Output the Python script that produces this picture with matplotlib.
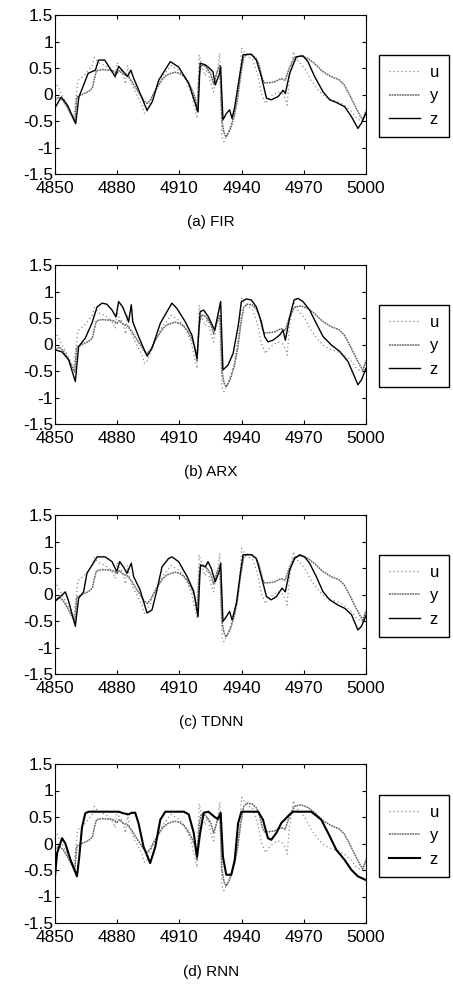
import matplotlib
matplotlib.use("Agg")
import matplotlib.pyplot as plt

plt.rcParams["font.family"] = ["Liberation Sans", "DejaVu Sans"]

# measured input u and plant output y (same in every panel)
t_u = [4850, 4852, 4854, 4856, 4858, 4859, 4860, 4861, 4862, 4864, 4866, 4868, 4869, 4871,
       4874, 4876, 4878, 4879, 4880, 4881, 4882, 4883, 4884, 4885, 4886, 4888, 4890, 4892,
       4893, 4894, 4896, 4898, 4900, 4902, 4904, 4906, 4908, 4910, 4912, 4914, 4916, 4917,
       4918.5, 4919.5, 4920.5, 4921.5, 4922.5, 4923.5, 4924.5, 4925.5, 4926.5, 4927.5,
       4928.5, 4929.5, 4930.5, 4931.5, 4933.5, 4936.5, 4939, 4940, 4942, 4945.5, 4948,
       4949.5, 4951.5, 4954, 4957.5, 4959.5, 4961, 4962, 4963, 4965, 4967, 4970.5, 4973.5,
       4977, 4980, 4983.5, 4986.5, 4989.5, 4993, 4995.5, 4998, 5000]
u = [0.25, 0.1, -0.05, -0.2, -0.35, -0.45, -0.1, 0.25, 0.3, 0.35, 0.45, 0.55, 0.7, 0.6,
     0.55, 0.5, 0.4, 0.3, 0.6, 0.5, 0.45, 0.35, 0.2, 0.55, 0.3, 0.1, -0.05, -0.2,
     -0.35, -0.35, -0.15, 0.05, 0.2, 0.35, 0.45, 0.55, 0.5, 0.45, 0.35, 0.2, 0.0, -0.2,
     -0.45, 0.75, 0.6, 0.45, 0.35, 0.5, 0.3, 0.15, 0.05, 0.3,
     0.5, 0.78, -0.8, -0.89, -0.73, -0.36, 0.27, 0.87, 0.75, 0.65, 0.34,
     0.02, -0.17, -0.04, 0.05, 0.02, -0.07, -0.2, 0.3, 0.81, 0.65, 0.49, 0.27,
     0.08, -0.04, -0.1, -0.14, -0.2, -0.32, -0.45, -0.51, -0.35]

t_y = [4850, 4852, 4854, 4856, 4858, 4859.5, 4860.5, 4862, 4864, 4866, 4868, 4869, 4870,
       4873, 4876, 4878, 4880, 4881, 4883, 4885, 4887, 4889, 4891, 4893, 4894.5, 4896,
       4898, 4900, 4902, 4904, 4906, 4908, 4910, 4912, 4914, 4916, 4917.5, 4918.5, 4919.5,
       4920.5, 4922, 4923.5, 4925, 4926.5, 4928, 4929.5, 4930.5, 4931.5, 4932.5, 4934,
       4935, 4936.5, 4938, 4939.5, 4941, 4942.5, 4945, 4947, 4948.5, 4950, 4951, 4953,
       4956, 4959, 4961, 4963, 4965.5, 4968.5, 4972, 4975, 4979, 4983, 4987, 4989.5,
       4992, 4994.5, 4997, 4998.5, 5000]
y = [-0.1, -0.05, -0.12, -0.25, -0.4, -0.52, -0.05, -0.02, 0.02, 0.05, 0.12, 0.3, 0.45,
     0.47, 0.46, 0.45, 0.4, 0.45, 0.38, 0.35, 0.25, 0.12, 0.0, -0.12, -0.17, -0.1,
     0.05, 0.18, 0.3, 0.37, 0.4, 0.42, 0.4, 0.35, 0.25, 0.1, -0.05, -0.3, 0.35,
     0.55, 0.55, 0.48, 0.4, 0.2, 0.4, 0.56, -0.5, -0.72, -0.8, -0.7,
     -0.6, -0.4, -0.1, 0.35, 0.7, 0.76, 0.75, 0.68, 0.55, 0.3, 0.22, 0.22,
     0.24, 0.3, 0.27, 0.5, 0.7, 0.73, 0.68, 0.59, 0.44, 0.34, 0.28, 0.18,
     0.0, -0.2, -0.39, -0.48, -0.3]

# model outputs z
t_fir = [4850, 4853, 4856, 4860, 4861.5, 4864, 4866, 4869.5, 4871, 4874, 4879, 4880.7, 4883,
         4885, 4886.6, 4888, 4890, 4894.4, 4897, 4900, 4905.6, 4909.6, 4914.5, 4919, 4920,
         4922.5, 4923.8, 4926.2, 4927.3, 4929.4, 4929.9, 4931, 4932.6, 4934.2, 4935.4,
         4936.7, 4939, 4940.7, 4944.7, 4947.1, 4949.5, 4952, 4954.3, 4957.6, 4960, 4961.1,
         4963.2, 4966.4, 4969.6, 4972, 4975.2, 4979.3, 4982.5, 4985.7, 4989.7, 4993,
         4996.1, 4997.8, 5000]
z_fir = [-0.25, -0.05, -0.2, -0.55, -0.05, 0.2, 0.4, 0.46, 0.65, 0.65, 0.34, 0.53, 0.43,
         0.34, 0.46, 0.3, 0.12, -0.3, -0.13, 0.27, 0.62, 0.52, 0.21, -0.33, 0.59,
         0.56, 0.52, 0.43, 0.18, 0.4, 0.52, -0.48, -0.36, -0.29, -0.45,
         -0.23, 0.34, 0.75, 0.76, 0.65, 0.34, -0.07, -0.1, -0.04, 0.08, 0.02,
         0.4, 0.71, 0.73, 0.62, 0.34, 0.05, -0.1, -0.15, -0.23, -0.42,
         -0.64, -0.54, -0.35]

t_arx = [4850, 4853.4, 4856.6, 4859.8, 4861.4, 4864.6, 4867.8, 4870.3, 4872.7, 4875, 4877.5,
         4879.4, 4880.7, 4882.6, 4884.2, 4885.5, 4886.8, 4887.5, 4890.3, 4894.4, 4896.8,
         4900.8, 4904, 4906.4, 4908.8, 4912.8, 4916, 4918.5, 4920, 4921.7, 4924, 4927,
         4929.9, 4931, 4933.4, 4935.9, 4938.3, 4939.9, 4942.3, 4944.7, 4947.1, 4949.5,
         4951.1, 4952.7, 4955.1, 4958.4, 4960, 4961.1, 4963.2, 4965.3, 4967.2, 4969.6,
         4972.8, 4976, 4979.3, 4983.3, 4987.3, 4991.3, 4994.5, 4996.1, 4997.8, 5000]
z_arx = [-0.1, -0.14, -0.29, -0.7, -0.04, 0.12, 0.4, 0.71, 0.78, 0.76, 0.65,
         0.52, 0.81, 0.71, 0.56, 0.43, 0.75, 0.43, 0.15, -0.22, -0.07,
         0.4, 0.62, 0.78, 0.68, 0.43, 0.18, -0.26, 0.62, 0.65, 0.52, 0.27,
         0.81, -0.48, -0.39, -0.17, 0.34, 0.81, 0.86, 0.84, 0.71, 0.43,
         0.15, 0.05, 0.08, 0.18, 0.27, 0.08, 0.52, 0.84, 0.87, 0.81,
         0.65, 0.4, 0.15, -0.01, -0.13, -0.32, -0.61, -0.76, -0.67, -0.45]

t_tdnn = [4850, 4852.6, 4855, 4856.6, 4859.8, 4861.4, 4863.8, 4865.4, 4867.8, 4870.3, 4874.2,
          4877.5, 4879.8, 4881.2, 4883, 4884.7, 4886.8, 4887.9, 4891, 4894.4, 4896.8,
          4899.2, 4901.6, 4904.8, 4906.4, 4909.6, 4913.7, 4916.9, 4919, 4920.1, 4922.5,
          4923.8, 4925.4, 4927.3, 4929.4, 4929.9, 4931, 4932.6, 4934.2, 4935.4, 4937.5,
          4939.4, 4940.7, 4944.7, 4947.1, 4949.5, 4952, 4954.3, 4956.8, 4959.5, 4961.1,
          4963.2, 4965.6, 4968, 4970.4, 4972.8, 4976, 4979.3, 4982.5, 4986.5, 4989.7,
          4993, 4996.1, 4997.8, 5000]
z_tdnn = [-0.13, -0.04, 0.05, -0.13, -0.6, -0.07, 0.05, 0.4, 0.55, 0.71, 0.71,
          0.62, 0.43, 0.62, 0.52, 0.4, 0.59, 0.34, 0.09, -0.35, -0.29,
          0.09, 0.52, 0.68, 0.71, 0.62, 0.34, 0.06, -0.42, 0.56, 0.52,
          0.62, 0.49, 0.24, 0.46, 0.59, -0.51, -0.42, -0.32, -0.48, -0.17,
          0.4, 0.75, 0.75, 0.68, 0.34, -0.04, -0.1, -0.04, 0.12, 0.05,
          0.46, 0.68, 0.75, 0.71, 0.59, 0.34, 0.05, -0.1, -0.2, -0.26,
          -0.38, -0.67, -0.6, -0.4]

t_rnn = [4850, 4851, 4853.4, 4855, 4857.4, 4860.6, 4861.7, 4863, 4864.6, 4866.2, 4872.7,
         4880.7, 4883, 4885.5, 4887, 4888.7, 4890.3, 4892.7, 4895.9, 4898.4, 4900.8,
         4903.2, 4912.1, 4914.5, 4916.9, 4918.5, 4920, 4921.7, 4924, 4927, 4928.6,
         4929.9, 4931, 4932.6, 4935, 4936.7, 4938.3, 4939.9, 4948, 4950.3, 4952.7,
         4954.3, 4956.8, 4959.2, 4960.8, 4963.2, 4964.8, 4973.6, 4978.4, 4981.7, 4985.7,
         4989.7, 4993, 4996.1, 5000]
z_rnn = [-0.62, -0.18, 0.1, 0.0, -0.3, -0.62, -0.25, 0.3, 0.57, 0.6, 0.6,
         0.6, 0.57, 0.55, 0.58, 0.58, 0.38, -0.06, -0.37, -0.06, 0.45,
         0.6, 0.6, 0.55, 0.2, -0.25, 0.2, 0.58, 0.6, 0.5, 0.46,
         0.58, -0.25, -0.59, -0.59, -0.31, 0.38, 0.6, 0.6, 0.45, 0.1,
         0.07, 0.2, 0.39, 0.45, 0.55, 0.6, 0.6, 0.45, 0.2, -0.12,
         -0.31, -0.5, -0.62, -0.69]

captions = ["(a) FIR", "(b) ARX", "(c) TDNN", "(d) RNN"]
models = [(t_fir, z_fir), (t_arx, z_arx), (t_tdnn, z_tdnn), (t_rnn, z_rnn)]
xticks = [4850, 4880, 4910, 4940, 4970, 5000]
yticks = [-1.5, -1, -0.5, 0, 0.5, 1, 1.5]
ytick_labels = ["-1.5", "-1", "-0.5", "0", "0.5", "1", "1.5"]

W, H = 453, 990
fig = plt.figure(figsize=(W / 100, H / 100), dpi=100)

# pixel geometry per panel: (axes top, axes bottom, legend top, caption y)
panels = [(15, 174, 55, 222), (265, 424, 305, 472),
          (515, 674, 555, 722), (764, 923, 795, 972)]
ax_left, ax_right = 55, 366

for i, (top, bot, leg_top, cap_y) in enumerate(panels):
    ax = fig.add_axes([ax_left / W, 1 - bot / H, (ax_right - ax_left) / W, (bot - top) / H])
    tz, z = models[i]
    zw = 1.5 if i == 3 else 1.0
    ax.plot(t_u, u, color="0.55", linestyle=(0, (1, 2.2)), linewidth=0.9, label="u")
    ax.plot(t_y, y, color="0.4", linestyle=(0, (1.2, 0.5)), linewidth=1.1, label="y")
    ax.plot(tz, z, color="black", linestyle="-", linewidth=zw, label="z")

    ax.set_xlim(4850, 5000)
    ax.set_ylim(-1.5, 1.5)
    ax.set_xticks(xticks)
    ax.set_yticks(yticks)
    ax.set_yticklabels(ytick_labels)
    ax.tick_params(direction="in", length=3, width=0.8, labelsize=12.5,
                   top=True, right=True, pad=1.5)
    ax.tick_params(axis="x", pad=5)
    for s in ax.spines.values():
        s.set_linewidth(0.8)

    ax.legend(loc="upper left", bbox_to_anchor=(379 / W, 1 - leg_top / H),
              bbox_transform=fig.transFigure, fontsize=12, frameon=True,
              fancybox=False, edgecolor="black", framealpha=1,
              handlelength=1.85, handletextpad=0.6, labelspacing=0.5,
              borderpad=0.6, borderaxespad=0)
    fig.text(211 / W, 1 - cap_y / H, captions[i], ha="center", va="center", fontsize=11)

fig.savefig("out.png", dpi=100)
